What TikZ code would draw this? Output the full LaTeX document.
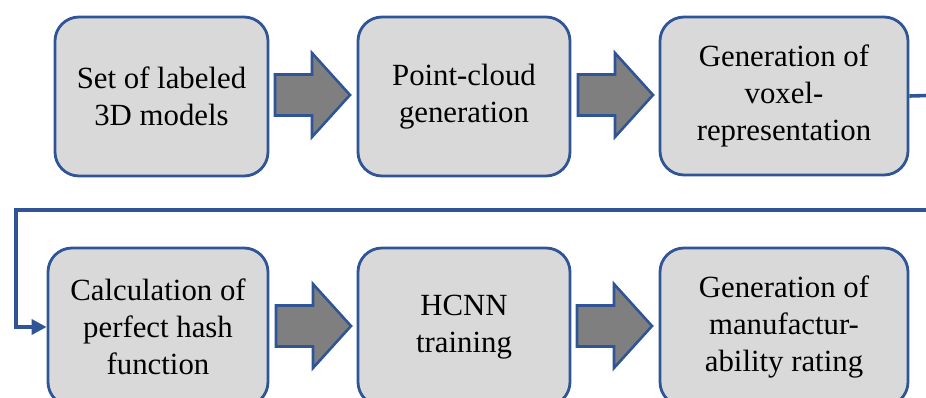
\documentclass[tikz,border=0pt]{standalone}
\usepackage{fontspec}
\setmainfont{Liberation Serif}
\newfontfamily\stagefont{Liberation Serif}
\usetikzlibrary{arrows.meta}
\definecolor{flowblue}{HTML}{2F5597}
\definecolor{boxgray}{HTML}{D9D9D9}
\definecolor{arrowgray}{HTML}{7F7F7F}
\tikzset{
  stage/.style={draw=flowblue, line width=2.8pt, fill=boxgray,
    rounded corners=24pt, align=center, inner sep=0pt,
    font=\stagefont\fontsize{30.8}{37}\selectfont},
  blockarrow/.style={draw=flowblue, line width=2.6pt, fill=arrowgray, line join=miter},
  link/.style={draw=flowblue, line width=3.6pt, line join=miter,
    -{Triangle[length=15pt,width=15pt]}},
  flowarrow/.pic={
    \path[blockarrow] (0,-20.5) -- (37,-20.5) -- (37,-42) -- (75,0)
      -- (37,42) -- (37,20.5) -- (0,20.5) -- cycle;
  }
}
\begin{document}
\begin{tikzpicture}[x=1pt,y=-1pt]
\useasboundingbox (0,0) rectangle (926,398);
\clip (0,0) rectangle (926,398);

% process stages, top row
\node[stage, minimum width=213pt, minimum height=159pt] (b1) at (161.5,96.5)
  {Set of labeled\\3D models};
\node[stage, minimum width=212pt, minimum height=159pt] (b2) at (464,96.5)
  {Point-cloud\\generation};
\node[stage, minimum width=248pt, minimum height=158pt] (b3) at (784,96)
  {Generation of\\voxel-\\representation};

% process stages, bottom row
\node[stage, minimum width=220pt, minimum height=158pt] (b4) at (158,327)
  {Calculation of\\perfect hash\\function};
\node[stage, minimum width=212pt, minimum height=158pt] (b5) at (464,327)
  {HCNN\\training};
\node[stage, minimum width=248pt, minimum height=158pt] (b6) at (784,327)
  {Generation of\\manufactur-\\ability rating};

% block arrows between stages
\pic at (275,95) {flowarrow};
\pic at (578,95) {flowarrow};
\pic at (276,326) {flowarrow};
\pic at (577,326) {flowarrow};

% return line from the top row to the bottom row
\coordinate (r1) at (945,95);
\coordinate (r2) at (945,210);
\coordinate (l1) at (16,210);
\draw[link] (b3.east) -- (r1) -- (r2) -- (l1) |- (b4.west);
\end{tikzpicture}
\end{document}
